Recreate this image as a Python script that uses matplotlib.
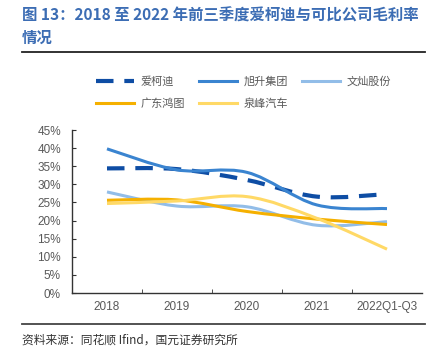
import matplotlib
matplotlib.use("Agg")
import matplotlib.pyplot as plt
import numpy as np
from matplotlib.path import Path
from matplotlib.patches import PathPatch
from matplotlib.lines import Line2D

plt.rcParams['font.family'] = ['Noto Sans CJK SC', 'DejaVu Sans']

categories = ['2018', '2019', '2020', '2021', '2022Q1-Q3']
aikedi = [34.4, 34.2, 31.2, 26.6, 27.3]
xusheng = [39.8, 34.0, 33.3, 24.3, 23.3]
wencan = [27.9, 24.0, 23.8, 18.7, 19.7]
hongtu = [25.6, 25.7, 22.5, 20.4, 18.9]
quanfeng = [24.7, 25.4, 26.6, 20.6, 12.1]
yticks = [0, 5, 10, 15, 20, 25, 30, 35, 40, 45]

series = [
    ('爱柯迪', aikedi, '#0E4DA4', 3.0, (0, (4.2, 2.6))),
    ('旭升集团', xusheng, '#3A84D0', 2.2, '-'),
    ('文灿股份', wencan, '#92BDE8', 2.2, '-'),
    ('广东鸿图', hongtu, '#F5B000', 2.2, '-'),
    ('泉峰汽车', quanfeng, '#FFD966', 2.2, '-'),
]

fig = plt.figure(figsize=(4.35, 3.54), dpi=100)
ax = fig.add_axes([72/435, 1-293/354, 350/435, 163/354])


def smooth_path(xs, ys, t=0.5):
    xs = np.asarray(xs, float); ys = np.asarray(ys, float)
    n = len(xs)
    verts = [(xs[0], ys[0])]
    codes = [Path.MOVETO]
    for i in range(n - 1):
        p0 = (xs[max(i-1, 0)], ys[max(i-1, 0)])
        p1 = (xs[i], ys[i]); p2 = (xs[i+1], ys[i+1])
        p3 = (xs[min(i+2, n-1)], ys[min(i+2, n-1)])
        c1 = (p1[0] + (p2[0]-p0[0])*t/3, p1[1] + (p2[1]-p0[1])*t/3)
        c2 = (p2[0] - (p3[0]-p1[0])*t/3, p2[1] - (p3[1]-p1[1])*t/3)
        verts += [c1, c2, p2]
        codes += [Path.CURVE4]*3
    return Path(verts, codes)

x = np.arange(len(categories))
handles = {}
for name, vals, color, lw, ls in series:
    p = smooth_path(x, vals, t=0.5)
    ax.add_patch(PathPatch(p, facecolor='none', edgecolor=color, lw=lw,
                           linestyle=ls, capstyle='butt'))
    handles[name] = Line2D([], [], color=color, lw=lw, linestyle=ls)

ax.set_xlim(-0.5, 4.5)
ax.set_ylim(0, 45)
ax.set_yticks(yticks)
ax.set_yticklabels([f'{v}%' for v in yticks], family='Liberation Sans')
ax.set_xticks(x)
ax.set_xticklabels(categories, family='Liberation Sans')
ax.set_xticks(np.arange(0.5, 4.0, 1.0), minor=True)
ax.tick_params(axis='x', which='major', length=0, labelsize=8.5, labelcolor='#595959', pad=6)
ax.tick_params(axis='x', which='minor', direction='in', length=3, color='#333333')
ax.tick_params(axis='y', direction='in', length=3, labelsize=8.5, labelcolor='#595959', color='#333333', pad=8)
for s in ['top', 'right']:
    ax.spines[s].set_visible(False)
for s in ['left', 'bottom']:
    ax.spines[s].set_color('#333333')
    ax.spines[s].set_linewidth(1.0)

order = ['爱柯迪', '广东鸿图', '旭升集团', '泉峰汽车', '文灿股份']
leg = fig.legend([handles[k] for k in order], order, ncol=3, loc='upper left',
                 bbox_to_anchor=(92/435, 1-72/354), frameon=False, fontsize=8,
                 handlelength=3.4, handletextpad=0.6, columnspacing=1.25,
                 labelspacing=1.0, borderaxespad=0)
for t in leg.get_texts():
    t.set_color('#595959')

fig.text(22/435, 1-16/354, '图 13：2018 至 2022 年前三季度爱柯迪与可比公司毛利率',
         fontsize=11.1, fontweight='bold', color='#3C6DB4', va='center', ha='left')
fig.text(22/435, 1-38/354, '情况', fontsize=11.1, fontweight='bold',
         color='#3C6DB4', va='center', ha='left')
fig.add_artist(Line2D([22/435, 425/435], [1-52/354, 1-52/354], color='#222222', lw=1.3,
                      transform=fig.transFigure))
fig.add_artist(Line2D([22/435, 425/435], [1-324/354, 1-324/354], color='#444444', lw=1.3,
                      transform=fig.transFigure))
fig.text(22/435, 1-340/354, '资料来源：同花顺 Ifind，国元证券研究所', fontsize=8.5,
         color='#333333', va='center', ha='left')

fig.savefig('out.png', dpi=100)
